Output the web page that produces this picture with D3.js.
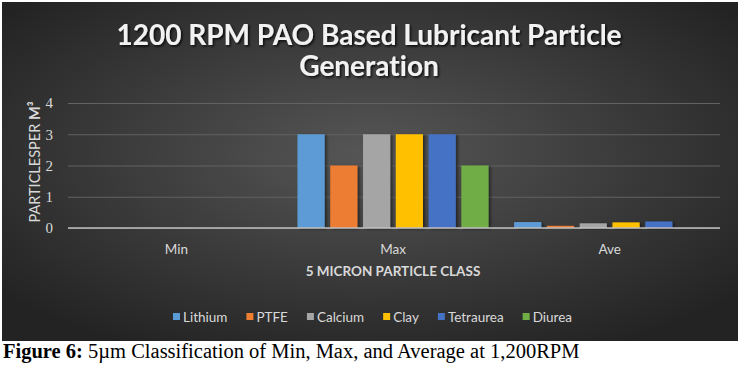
<!DOCTYPE html>
<html><head><meta charset="utf-8">
<script src="https://cdn.jsdelivr.net/npm/d3@7"></script>
<style>body{margin:0;background:#fff;}svg{display:block;}text{font-variant-ligatures:none;font-feature-settings:"liga" 0;}</style>
</head><body>
<svg id="chart" width="748" height="372"></svg>
<script>
const categories = ["Min", "Max", "Ave"];
const seriesNames = ["Lithium", "PTFE", "Calcium", "Clay", "Tetraurea", "Diurea"];
const seriesColors = ["#5B9BD5", "#ED7D31", "#A5A5A5", "#FFC000", "#4472C4", "#70AD47"];
const lithium   = [0, 3, 0.19];
const ptfe      = [0, 2, 0.07];
const calcium   = [0, 3, 0.15];
const clay      = [0, 3, 0.18];
const tetraurea = [0, 3, 0.21];
const diurea    = [0, 2, 0];
const yTicks = [0, 1, 2, 3, 4];
const seriesValues = [lithium, ptfe, calcium, clay, tetraurea, diurea];

const svg = d3.select("#chart");
const defs = svg.append("defs");
const rg = defs.append("radialGradient").attr("id","bg").attr("cx","50%").attr("cy","45%").attr("r","65%");
rg.append("stop").attr("offset","0%").attr("stop-color","#565656");
rg.append("stop").attr("offset","100%").attr("stop-color","#232323");
const sh = defs.append("filter").attr("id","tshadow").attr("x","-10%").attr("y","-30%").attr("width","120%").attr("height","160%");
sh.append("feDropShadow").attr("dx",1.5).attr("dy",1.5).attr("stdDeviation",1).attr("flood-color","#000").attr("flood-opacity",0.8);
const bs = defs.append("filter").attr("id","bshadow").attr("x","-20%").attr("y","-20%").attr("width","150%").attr("height","150%");
bs.append("feDropShadow").attr("dx",2).attr("dy",1).attr("stdDeviation",1.5).attr("flood-color","#000").attr("flood-opacity",0.5);

svg.append("rect").attr("x",2).attr("y",2).attr("width",736).attr("height",339).attr("fill","url(#bg)");

const plotL = 68, plotR = 718, yTop = 103, yBot = 228;
const x0 = d3.scaleBand().domain(categories).range([plotL, plotR]).paddingInner(0).paddingOuter(0);
const x1 = d3.scaleBand().domain(seriesNames).range([12.8, x0.bandwidth() - 12.8]).paddingInner(0.17).paddingOuter(0);
const y = d3.scaleLinear().domain([0, 4]).range([yBot, yTop]);

// gridlines
const yAxis = d3.axisLeft(y).tickValues(yTicks).tickSize(-(plotR + 2 - plotL)).tickFormat(d3.format("d")).tickPadding(15);
const gy = svg.append("g").attr("transform", `translate(${plotL},0)`).call(yAxis);
gy.select(".domain").remove();
gy.selectAll(".tick line").attr("stroke", "#626262").attr("stroke-width", 1);
gy.selectAll(".tick text").attr("fill", "#d9d9d9").attr("font-family", "Liberation Serif, serif").attr("font-size", 15);

// bars
const groups = svg.append("g").selectAll("g").data(categories).join("g")
  .attr("transform", d => `translate(${x0(d)},0)`);
groups.selectAll("rect").data((c, ci) => seriesNames.map((s, si) => ({s, si, v: seriesValues[si][ci]})))
  .join("rect")
  .attr("x", d => x1(d.s)).attr("width", x1.bandwidth())
  .attr("y", d => y(d.v)).attr("height", d => yBot - y(d.v))
  .attr("fill", d => seriesColors[d.si])
  .attr("filter", "url(#bshadow)");

// x axis
const xAxis = d3.axisBottom(x0).tickSize(0).tickPadding(16);
const gx = svg.append("g").attr("transform", `translate(0,${yBot})`).call(xAxis);
gx.select(".domain").attr("stroke", "#bfbfbf").attr("stroke-width", 1.5).attr("d", `M${plotL},0H${plotR + 2}`);
gx.selectAll(".tick text").attr("fill", "#d9d9d9").attr("font-family", "Lato, sans-serif").attr("font-size", 13.5);

// title
const title = svg.append("text").attr("text-anchor","middle").attr("fill","#f2f2f2")
  .attr("font-family","Lato, sans-serif").attr("font-weight","bold").attr("font-size",28)
  .attr("filter","url(#tshadow)");
title.append("tspan").attr("x",369).attr("y",45).text("1200 RPM PAO Based Lubricant Particle");
title.append("tspan").attr("x",369).attr("y",76).text("Generation");

// axis titles
svg.append("text").attr("x", 393).attr("y", 276).attr("text-anchor","middle").attr("fill","#d9d9d9")
  .attr("font-family","Lato, sans-serif").attr("font-weight","bold").attr("font-size",13.5)
  .text("5 MICRON PARTICLE CLASS");
const yl = svg.append("text").attr("transform","translate(40,162) rotate(-90)").attr("text-anchor","middle").attr("fill","#d9d9d9")
  .attr("font-family","Lato, sans-serif").attr("font-size",14.5);
yl.append("tspan").text("PARTICLESPER ");
yl.append("tspan").attr("font-weight","bold").text("M³");

// legend
const leg = svg.append("g");
let lx = 0;
seriesNames.forEach((s, i) => {
  const g = leg.append("g").attr("transform", `translate(${lx},0)`);
  g.append("rect").attr("x",0).attr("y",-4).attr("width",7).attr("height",7).attr("fill",seriesColors[i]);
  const t = g.append("text").attr("x",10).attr("y",0).attr("dy","0.35em").attr("fill","#d9d9d9")
    .attr("font-family","Lato, sans-serif").attr("font-size",13.5).text(s);
  lx += 10 + t.node().getComputedTextLength() + 19;
});
const legW = lx - 19;
leg.attr("transform", `translate(${372.5 - legW/2},317)`);

// caption
const cap = svg.append("text").attr("x",3).attr("y",358).attr("fill","#000")
  .attr("font-family","Liberation Serif, Times New Roman, serif").attr("font-size",20.5);
cap.append("tspan").attr("font-weight","bold").text("Figure 6:");
cap.append("tspan").text(" 5µm Classification of Min, Max, and Average at 1,200RPM");
</script>
</body></html>
